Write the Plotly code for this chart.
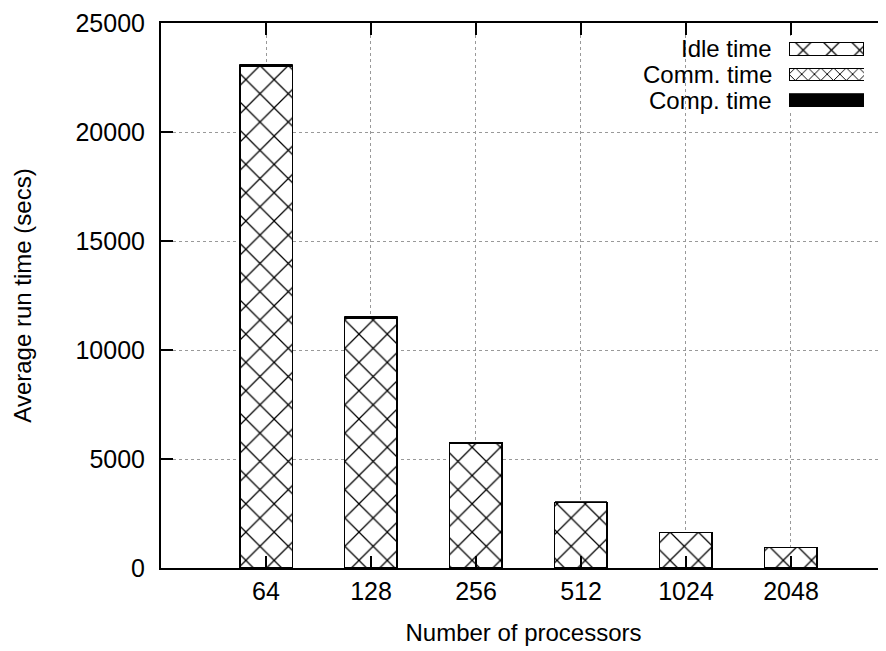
import plotly.graph_objects as go

processors = ["64", "128", "256", "512", "1024", "2048"]
idle_time = [23000, 11470, 5730, 2995, 1625, 942]
comm_time = [60, 40, 30, 20, 15, 10]
comp_time = [40, 30, 20, 15, 10, 8]
y_ticks = [0, 5000, 10000, 15000, 20000, 25000]
legend_names = ["Idle time", "Comm. time", "Comp. time"]

FONT = "Liberation Sans, Arial, Helvetica, sans-serif"
FS = 24
TFS = 25

# page body has an 8px default margin; compensate so the plot lands at the
# reference pixel positions
OFF = 8
W, H = 886 - OFF, 651 - OFF
L, T, B = 161 - OFF, 23 - OFF, 651 - 568
PW, PH = 886 - 161, 568 - 23

x_idx = list(range(len(processors)))

fig = go.Figure()

def pat(shape, size, solidity):
    return dict(shape=shape, fgcolor="black", bgcolor="white", size=size,
                solidity=solidity, fillmode="replace")

styles = [
    dict(color="white", pattern=pat("x", 20, 0.12), line=dict(color="black", width=1.5)),
    dict(color="white", pattern=pat("x", 9, 0.2), line=dict(color="black", width=1)),
    dict(color="black", line=dict(color="black", width=0.8)),
]

for name, vals, st in zip(legend_names, [idle_time, comm_time, comp_time], styles):
    fig.add_trace(go.Bar(x=x_idx, y=vals, name=name, width=0.5, marker=st,
                         showlegend=False, xaxis="x", yaxis="y"))

# custom gnuplot-style key (text left, sample right)
key_rows = legend_names[::-1]
for name, st in zip(legend_names, styles):
    fig.add_trace(go.Bar(y=[name], x=[1], orientation="h", width=0.5, marker=st,
                         showlegend=False, xaxis="x2", yaxis="y2", hoverinfo="skip"))

fig.update_layout(
    width=W, height=H,
    margin=dict(l=L, r=0, t=T, b=B, autoexpand=False),
    paper_bgcolor="white", plot_bgcolor="white",
    barmode="stack",
    font=dict(family=FONT, size=FS, color="black"),
    xaxis=dict(
        range=[-1, 5.905], automargin=False,
        tickmode="array", tickvals=x_idx, ticktext=processors,
        ticks="inside", ticklen=12, tickwidth=1.5, tickcolor="black",
        showline=True, linecolor="black", linewidth=2, mirror="ticks",
        showgrid=True, gridcolor="#999999", griddash="dot", gridwidth=1,
        zeroline=False,
        ticklabelstandoff=0,
        title=dict(text="Number of processors", standoff=20, font=dict(size=FS)),
        tickfont=dict(size=TFS),
    ),
    yaxis=dict(
        range=[0, 25000], automargin=False,
        tickmode="array", tickvals=y_ticks, ticktext=[str(v) for v in y_ticks],
        ticks="inside", ticklen=12, tickwidth=1.5, tickcolor="black",
        showline=True, linecolor="black", linewidth=2,
        showgrid=True, gridcolor="#999999", griddash="dot", gridwidth=1,
        zeroline=False,
        ticklabelstandoff=9,
        title=dict(text="Average run time (secs)", standoff=37, font=dict(size=FS)),
        tickfont=dict(size=TFS),
    ),
    xaxis2=dict(domain=[(789 - 161) / PW, (864 - 161) / PW], range=[0, 1],
                visible=False, anchor="y2", fixedrange=True, automargin=False),
    yaxis2=dict(domain=[(568 - 113) / PH, (568 - 36) / PH], visible=False,
                anchor="x2", categoryorder="array", categoryarray=key_rows,
                range=[-0.5, 2.5], fixedrange=True, automargin=False),
)

for i, name in enumerate(key_rows):
    fig.add_annotation(x=(774 - 161) / PW, xref="paper", xanchor="right",
                       y=name, yref="y2", yanchor="middle", text=name,
                       showarrow=False, font=dict(size=FS))

fig.write_html("out.html")
